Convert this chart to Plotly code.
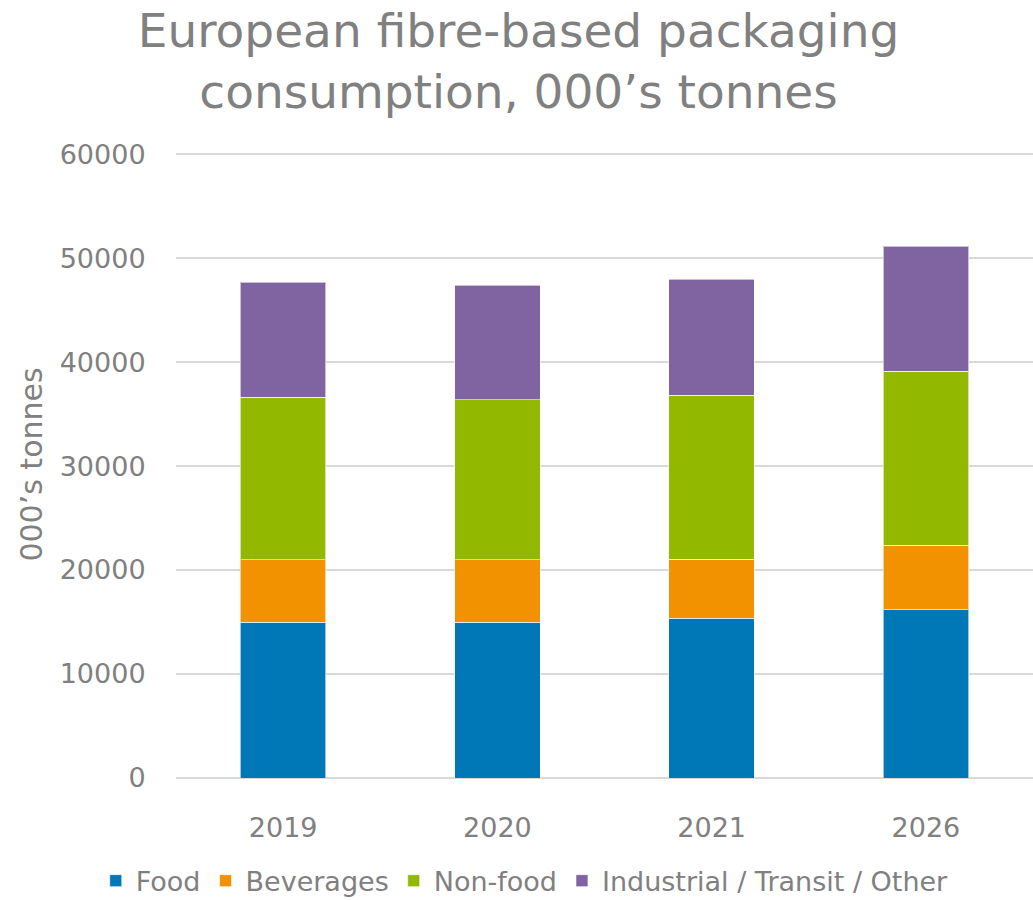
import plotly.graph_objects as go

years = ["2019", "2020", "2021", "2026"]
food = [15000, 15000, 15350, 16200]
beverages = [6000, 6000, 5700, 6200]
non_food = [15600, 15400, 15750, 16700]
industrial = [11100, 11000, 11150, 12050]

series = [
    ("Food", food, "#0077b6"),
    ("Beverages", beverages, "#f39200"),
    ("Non-food", non_food, "#93b800"),
    ("Industrial / Transit / Other", industrial, "#8064a2"),
]

FONT = "DejaVu Sans"
GRAY = "#808080"

fig = go.Figure()
for name, vals, col in series:
    fig.add_trace(go.Bar(x=years, y=vals, name=name,
                         marker=dict(color=col, line=dict(color="rgba(255,255,255,0.6)", width=1))))

fig.update_layout(
    barmode="stack",
    bargap=0.6,
    width=1033, height=900,
    paper_bgcolor="white", plot_bgcolor="white",
    margin=dict(l=176, r=0, t=151, b=122, autoexpand=False),
    font=dict(family=FONT, color=GRAY, size=26),
    title=dict(text="European fibre-based packaging<br>consumption, 000’s tonnes",
               x=0.502, xref="container", xanchor="center",
               y=0.948, yref="container", yanchor="middle",
               font=dict(family=FONT, size=47, color=GRAY)),
    yaxis=dict(range=[0, 60300], tickvals=[0, 10000, 20000, 30000, 40000, 50000, 60000],
               showgrid=True, gridcolor="#d9d9d9", gridwidth=2,
               zeroline=True, zerolinecolor="#d9d9d9", zerolinewidth=2,
               tickfont=dict(size=27, color=GRAY), ticks="outside", ticklen=24, tickcolor="rgba(0,0,0,0)",
               title=dict(text="000’s tonnes", font=dict(size=30, color=GRAY), standoff=8),
               tickformat="d", showline=False),
    xaxis=dict(tickfont=dict(size=27, color=GRAY), showline=False,
               ticks="outside", ticklen=26, tickcolor="rgba(0,0,0,0)"),
    legend=dict(orientation="h", x=0.508, xanchor="center", xref="container",
                y=0.021, yref="container", yanchor="middle",
                font=dict(size=27, color=GRAY), traceorder="normal", itemwidth=30),
)

fig.write_html("out.html", config={"displayModeBar": False},
               post_script="document.body.style.margin='0px';")
